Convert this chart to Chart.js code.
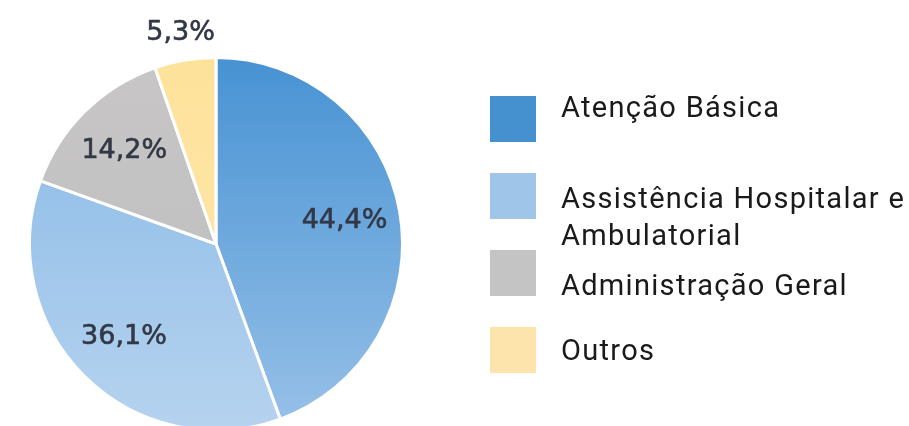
<!DOCTYPE html>
<html>
<head>
<meta charset="utf-8">
<script src="https://cdn.jsdelivr.net/npm/chart.js@4/dist/chart.umd.min.js"></script>
<style>
  html, body { margin: 0; padding: 0; background: #fff; overflow: hidden; width: 909px; height: 426px; }
  #wrap { width: 909px; height: 450px; }
</style>
</head>
<body>
<div id="wrap"><canvas id="pieChart" width="909" height="450"></canvas></div>
<script>
// data
const categories = ['Atenção Básica', ['Assistência Hospitalar e', 'Ambulatorial'], 'Administração Geral', 'Outros'];
const shares = [44.4, 36.1, 14.2, 5.3];
const shareLabels = ['44,4%', '36,1%', '14,2%', '5,3%'];

// slice gradients (top, bottom) and legend swatches
const sliceGradients = [
    ['#4792d3', '#98c1e8'],
    ['#86b8e6', '#b6d3ef'],
    ['#c8c6c6', '#bcbcbc'],
    ['#fde29a', '#fee7ae']
];
const swatchColors = ['#4591d0', '#9fc5e9', '#c4c4c4', '#fde4ad'];

document.addEventListener('DOMContentLoaded', function() {
    const ctx = document.getElementById('pieChart').getContext('2d');

    // percent labels on the slices (small slice goes outside)
    const sliceLabels = {
        id: 'sliceLabels',
        afterDatasetsDraw(chart) {
            const c = chart.ctx;
            const meta = chart.getDatasetMeta(0);
            c.save();
            c.font = '27px "DejaVu Sans"';
            c.fillStyle = '#323846';
            c.strokeStyle = '#323846';
            c.lineWidth = 0.6;
            c.textAlign = 'center';
            c.textBaseline = 'middle';
            meta.data.forEach(function(arc, i) {
                const p = arc.getProps(['x', 'y', 'startAngle', 'endAngle', 'outerRadius'], true);
                const mid = (p.startAngle + p.endAngle) / 2;
                const r = shares[i] < 8 ? p.outerRadius + 27 : p.outerRadius * 0.7;
                const tx = p.x + Math.cos(mid) * r, ty = p.y + Math.sin(mid) * r;
                c.fillText(shareLabels[i], tx, ty);
                c.strokeText(shareLabels[i], tx, ty);
            });
            c.restore();
        }
    };

    // legend on the right
    const sideLegend = {
        id: 'sideLegend',
        afterDraw(chart) {
            const c = chart.ctx;
            const x0 = 490, box = 46, textX = 561;
            const rowTops = [96, 173, 250, 327];
            const baselines = [117, 208, 295, 360];
            c.save();
            c.font = '29px Roboto';
            c.letterSpacing = '1.3px';
            c.textBaseline = 'alphabetic';
            chart.data.labels.forEach(function(label, i) {
                c.fillStyle = swatchColors[i];
                c.fillRect(x0, rowTops[i], box, box);
                c.fillStyle = '#1a1a1a';
                const lines = Array.isArray(label) ? label : [label];
                lines.forEach(function(line, j) {
                    c.fillText(line, textX, baselines[i] + j * 37);
                });
            });
            c.restore();
        }
    };

    new Chart(ctx, {
        type: 'pie',
        data: {
            labels: categories,
            datasets: [{
                data: shares,
                backgroundColor: function(context) {
                    const area = context.chart.chartArea;
                    const pair = sliceGradients[context.dataIndex];
                    if (!area) return pair[0];
                    const g = context.chart.ctx.createLinearGradient(0, area.top, 0, area.bottom);
                    g.addColorStop(0, pair[0]);
                    g.addColorStop(1, pair[1]);
                    return g;
                },
                borderColor: '#ffffff',
                borderWidth: 3
            }]
        },
        options: {
            responsive: false,
            animation: false,
            devicePixelRatio: 1,
            layout: {
                padding: { left: 28, right: 505, top: 56, bottom: 18 }
            },
            plugins: {
                legend: { display: false },
                tooltip: { enabled: false }
            }
        },
        plugins: [sliceLabels, sideLegend]
    });
});
</script>
</body>
</html>
